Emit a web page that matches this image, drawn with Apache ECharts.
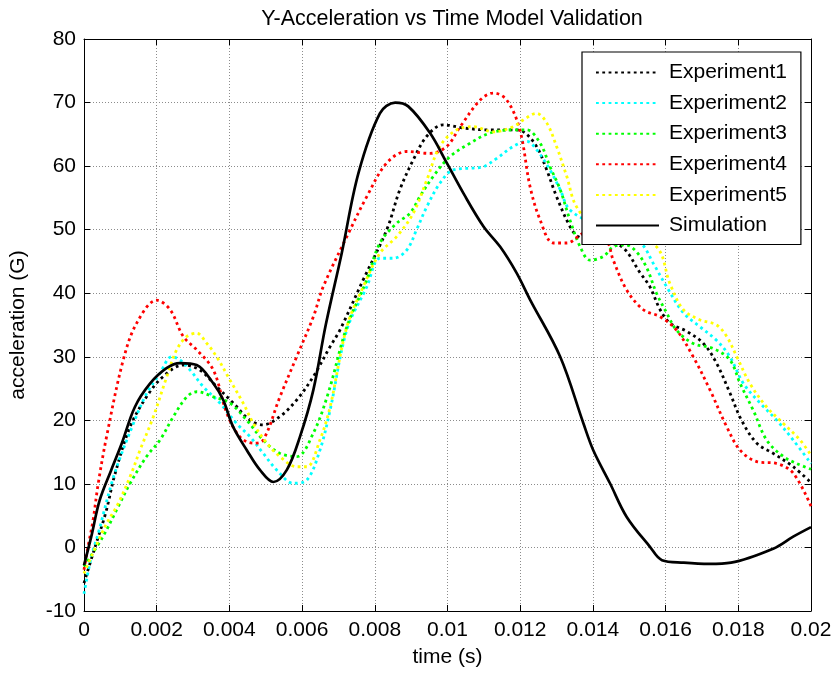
<!DOCTYPE html>
<html>
<head>
<meta charset="utf-8">
<title>Y-Acceleration vs Time Model Validation</title>
<script src="https://cdn.jsdelivr.net/npm/echarts@6/dist/echarts.min.js"></script>
<style>
  html, body { margin: 0; padding: 0; background: #fff; }
  #chart { width: 835px; height: 675px; }
</style>
</head>
<body>
<div id="chart"></div>
<script>
// Time (s) / acceleration (G) samples for each run
const experiment1 = [[0,-5.6],[0.0003,0],[0.0006,5.5],[0.00085,11.5],[0.00127,19],[0.00172,23.7],[0.00218,26.9],[0.00273,28.7],[0.00319,27.9],[0.00365,25.3],[0.00411,22.7],[0.00457,20.0],[0.00493,19.3],[0.00539,20.6],[0.00585,23.2],[0.00631,26.9],[0.00677,31.6],[0.00704,34.2],[0.00768,42.1],[0.00833,50.0],[0.00869,56.3],[0.00906,61.0],[0.00943,64.7],[0.00988,66.5],[0.01044,66.0],[0.01108,65.7],[0.01181,65.7],[0.01209,65.4],[0.01245,63.1],[0.01273,59.4],[0.013,55.2],[0.01337,50.5],[0.0136,48.9],[0.0142,48.0],[0.0148,47.3],[0.0153,43.2],[0.01557,41.0],[0.01585,37.4],[0.01612,35.3],[0.01658,34.0],[0.01704,32.1],[0.0174,29.0],[0.01777,24.3],[0.01809,20.0],[0.01851,16.4],[0.01896,14.8],[0.01951,12.7],[0.02,10.2]];
const experiment2 = [[0,-7.3],[0.0002,-1.5],[0.00039,2.2],[0.00084,11.6],[0.00136,19.5],[0.00172,24.2],[0.00209,27.4],[0.00241,30.0],[0.00264,29.5],[0.00292,27.9],[0.00328,25.3],[0.00374,22.7],[0.0042,19.5],[0.00457,17.4],[0.00493,14.8],[0.0053,12.2],[0.00576,10.1],[0.00613,10.6],[0.00649,15.3],[0.00677,21.6],[0.00723,34.2],[0.00778,41.0],[0.00814,45.5],[0.00851,45.5],[0.00888,46.8],[0.00915,50.0],[0.00943,53.6],[0.00979,57.3],[0.01016,59.4],[0.01071,59.7],[0.01099,59.9],[0.01135,61.2],[0.01181,63.1],[0.01218,63.9],[0.01245,62.6],[0.01282,59.4],[0.0131,56.3],[0.01337,53.1],[0.0142,50.5],[0.0153,47.9],[0.01566,44.7],[0.01603,41.0],[0.01649,36.9],[0.01695,34.7],[0.0174,32.6],[0.01777,30.0],[0.01814,25.8],[0.0186,22.7],[0.01906,20.0],[0.01951,16.9],[0.02,13.2]];
const experiment3 = [[0,-3],[0.00052,1.7],[0.00094,6.4],[0.00127,10.1],[0.00172,14.3],[0.00209,16.9],[0.00246,20.6],[0.00283,23.7],[0.0031,24.5],[0.00356,23.7],[0.00402,22.7],[0.00448,20.0],[0.00493,16.9],[0.00539,14.8],[0.00585,14.3],[0.00631,18.0],[0.00672,24.3],[0.00723,34.7],[0.00778,42.1],[0.00814,47.9],[0.0086,51.0],[0.00897,52.6],[0.00924,55.2],[0.00961,58.4],[0.01007,61.5],[0.01062,63.6],[0.01117,65.2],[0.01181,65.7],[0.01218,65.7],[0.01255,63.6],[0.01282,59.9],[0.0131,56.3],[0.01337,51.5],[0.01365,47.3],[0.01392,45.2],[0.01429,45.8],[0.01456,47.3],[0.0149,47.6],[0.0152,46.5],[0.01548,44.0],[0.01575,40.0],[0.01603,36.9],[0.0163,34.2],[0.01676,32.1],[0.01731,31.3],[0.01777,29.5],[0.01805,25.8],[0.01841,21.6],[0.01878,16.9],[0.01924,14.3],[0.01961,13.2],[0.02,12.3]];
const experiment4 = [[0,-3.5],[0.00011,0.1],[0.00025,4.3],[0.00039,10],[0.00062,17.4],[0.00108,29.5],[0.00145,35.3],[0.002,38.9],[0.00237,37.4],[0.00273,33.2],[0.0031,31.1],[0.00356,27.9],[0.00393,21.1],[0.00429,17.4],[0.00466,16.4],[0.00493,16.9],[0.00539,23.7],[0.00585,30.0],[0.00631,36.3],[0.00658,41.0],[0.00723,48.9],[0.00778,55.2],[0.00833,60.5],[0.00888,62.3],[0.00952,62.0],[0.00998,63.1],[0.01035,66.2],[0.0109,70.4],[0.01126,71.5],[0.01163,70.4],[0.01199,65.7],[0.01227,56.8],[0.01255,51.5],[0.01291,47.9],[0.01328,47.9],[0.0138,49.5],[0.01435,48.5],[0.01456,45.2],[0.01493,40.5],[0.01539,37.4],[0.01585,36.3],[0.0163,34.2],[0.01676,30.0],[0.01722,24.8],[0.01768,19.0],[0.01805,15.3],[0.01851,13.5],[0.01906,13.2],[0.01951,11.7],[0.02,6.5]];
const experiment5 = [[0,-4.1],[0.00057,3.2],[0.00094,6.9],[0.0013,11.6],[0.00154,15.3],[0.00191,20.6],[0.00228,26.9],[0.00255,31.1],[0.00283,33.2],[0.0031,33.7],[0.00338,32.1],[0.00365,30.0],[0.00402,26.3],[0.00438,22.7],[0.00466,19.5],[0.00503,16.4],[0.00539,14.3],[0.00585,12.7],[0.00613,12.7],[0.00649,16.9],[0.00677,22.1],[0.00723,34.7],[0.00768,41.0],[0.00814,46.3],[0.0086,48.9],[0.00906,52.6],[0.00943,57.8],[0.00979,63.1],[0.01025,65.7],[0.01071,66.2],[0.01126,65.4],[0.01181,66.2],[0.01209,67.3],[0.01245,68.3],[0.01273,66.8],[0.013,63.1],[0.01328,58.4],[0.01355,53.6],[0.0142,49.5],[0.0148,49.0],[0.01575,47.3],[0.01612,41.5],[0.01649,37.4],[0.01695,35.8],[0.0174,35.0],[0.01768,33.2],[0.01796,30.0],[0.01832,25.8],[0.01878,22.1],[0.01924,19.5],[0.0197,16.9],[0.02,14.5]];
const simulation = [[0,-2.8],[0.0002,1.7],[0.00043,7.4],[0.00075,12.2],[0.00104,16.4],[0.0014,22.1],[0.00182,25.8],[0.00227,28.2],[0.00264,29.0],[0.0031,28.7],[0.00356,25.8],[0.00383,23.2],[0.0041,19.0],[0.00448,15.3],[0.00484,12.2],[0.00521,10.3],[0.00558,12.2],[0.00594,17.4],[0.00631,24.8],[0.00665,35.0],[0.00709,46.3],[0.00755,58.9],[0.00814,68.3],[0.00856,70.0],[0.00892,69.4],[0.00952,65.2],[0.00998,60.5],[0.01044,55.7],[0.01099,50.5],[0.01145,47.3],[0.0119,43.2],[0.01227,39.0],[0.0131,30.0],[0.01374,19.5],[0.01401,15.3],[0.01447,10.1],[0.01493,4.8],[0.01557,0.1],[0.0159,-2.0],[0.0165,-2.4],[0.0172,-2.6],[0.0178,-2.4],[0.01896,-0.2],[0.01951,1.7],[0.02,3.2]];

const seriesNames = ['Experiment1', 'Experiment2', 'Experiment3', 'Experiment4', 'Experiment5', 'Simulation'];
const seriesData = [experiment1, experiment2, experiment3, experiment4, experiment5, simulation];
const seriesColors = ['#000000', '#00ffff', '#00ff00', '#ff0000', '#ffff00', '#000000'];

const xTickLabels = ['0', '0.002', '0.004', '0.006', '0.008', '0.01', '0.012', '0.014', '0.016', '0.018', '0.02'];

const FONT = '"Liberation Sans", Arial, sans-serif';
const TXT = 21;

const chart = echarts.init(document.getElementById('chart'), null, { renderer: 'canvas' });

const gridLine = { show: true, lineStyle: { color: '#8c8c8c', width: 1, type: [1, 2] } };

const series = seriesNames.map((name, i) => {
  const solid = name === 'Simulation';
  return {
    name: name,
    type: 'line',
    xAxisIndex: 0,
    yAxisIndex: 0,
    data: seriesData[i],
    symbol: 'none',
    smooth: 0.35,
    z: solid ? 10 : 3,
    lineStyle: {
      color: seriesColors[i],
      width: solid ? 2.7 : 2.8,
      type: solid ? 'solid' : [2.8, 3.5],
      cap: 'butt'
    },
    itemStyle: { color: seriesColors[i] },
    animation: false
  };
});

const option = {
  backgroundColor: '#ffffff',
  animation: false,
  title: {
    text: 'Y-Acceleration vs Time Model Validation',
    left: 447,
    top: 3,
    textAlign: 'center',
    textStyle: { fontFamily: FONT, fontSize: 21.5, fontWeight: 'normal', color: '#000' }
  },
  grid: { left: 84, right: 24, top: 39, bottom: 64, containLabel: false },
  legend: {
    orient: 'vertical',
    left: 582,
    top: 52,
    padding: [10, 14, 8.5, 13],
    itemWidth: 63,
    itemHeight: 14,
    itemGap: 9.6,
    backgroundColor: '#ffffff',
    borderColor: '#000000',
    borderWidth: 1.2,
    borderRadius: 0,
    itemStyle: { opacity: 0, borderWidth: 0 },
    textStyle: { fontFamily: FONT, fontSize: TXT, color: '#000', padding: [0, 0, 0, 5] },
    data: seriesNames
  },
  xAxis: [
    {
      type: 'value',
      min: 0, max: 0.02, interval: 0.002,
      position: 'bottom',
      name: 'time (s)',
      nameLocation: 'middle',
      nameGap: 36,
      nameTextStyle: { fontFamily: FONT, fontSize: TXT, color: '#000' },
      axisLine: { show: true, onZero: false, lineStyle: { color: '#000', width: 1 } },
      axisTick: { show: true, inside: true, length: 6, lineStyle: { color: '#000' } },
      axisLabel: {
        fontFamily: FONT, fontSize: TXT, color: '#000', margin: 9,
        formatter: v => xTickLabels[Math.round(v / 0.002)]
      },
      splitLine: gridLine
    },
    {
      type: 'value',
      min: 0, max: 0.02, interval: 0.002,
      position: 'top',
      axisLine: { show: true, onZero: false, lineStyle: { color: '#000', width: 1 } },
      axisTick: { show: true, inside: true, length: 6, lineStyle: { color: '#000' } },
      axisLabel: { show: false },
      splitLine: { show: false }
    }
  ],
  yAxis: [
    {
      type: 'value',
      min: -10, max: 80, interval: 10,
      position: 'left',
      name: 'acceleration (G)',
      nameLocation: 'middle',
      nameGap: 55,
      nameRotate: 90,
      nameTextStyle: { fontFamily: FONT, fontSize: TXT, color: '#000' },
      axisLine: { show: true, onZero: false, lineStyle: { color: '#000', width: 1 } },
      axisTick: { show: true, inside: true, length: 6, lineStyle: { color: '#000' } },
      axisLabel: { fontFamily: FONT, fontSize: TXT, color: '#000', margin: 8 },
      splitLine: gridLine
    },
    {
      type: 'value',
      min: -10, max: 80, interval: 10,
      position: 'right',
      axisLine: { show: true, onZero: false, lineStyle: { color: '#000', width: 1 } },
      axisTick: { show: true, inside: true, length: 6, lineStyle: { color: '#000' } },
      axisLabel: { show: false },
      splitLine: { show: false }
    }
  ],
  series: series
};

chart.setOption(option);
</script>
</body>
</html>
